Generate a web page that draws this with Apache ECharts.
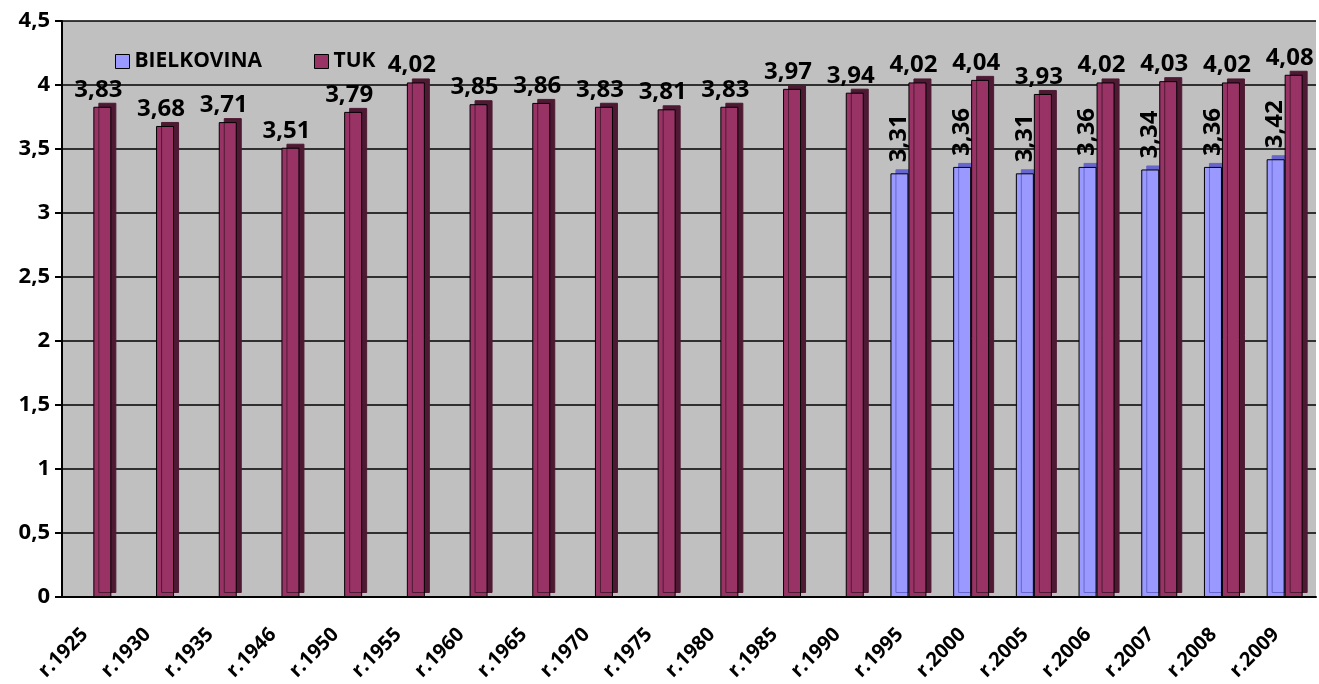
<!DOCTYPE html>
<html>
<head>
<meta charset="utf-8">
<script src="https://cdn.jsdelivr.net/npm/echarts@6/dist/echarts.min.js"></script>
<style>
  html, body { margin: 0; padding: 0; background: #fff; }
  #chart { width: 1319px; height: 684px; }
</style>
</head>
<body>
<div id="chart"></div>
<script>
// roky
var roky = ['r.1925', 'r.1930', 'r.1935', 'r.1946', 'r.1950', 'r.1955', 'r.1960', 'r.1965', 'r.1970', 'r.1975',
            'r.1980', 'r.1985', 'r.1990', 'r.1995', 'r.2000', 'r.2005', 'r.2006', 'r.2007', 'r.2008', 'r.2009'];
// bielkovina - merane az od r.1995
var bielkovina = [null, null, null, null, null, null, null, null, null, null,
                  null, null, null, 3.31, 3.36, 3.31, 3.36, 3.34, 3.36, 3.42];
// tuk
var tuk = [3.83, 3.68, 3.71, 3.51, 3.79, 4.02, 3.85, 3.86, 3.83, 3.81,
           3.83, 3.97, 3.94, 4.02, 4.04, 3.93, 4.02, 4.03, 4.02, 4.08];
var osY = [0, 0.5, 1, 1.5, 2, 2.5, 3, 3.5, 4, 4.5];

var font = '"Open Sans"';
function ciarka(v) { return String(v).replace('.', ','); }

var myChart = echarts.init(document.getElementById('chart'));

var option = {
    animation: false,
    textStyle: { fontFamily: font },
    legend: {
        left: 110,
        top: 46,
        itemGap: 52,
        itemWidth: 14,
        itemHeight: 14,
        icon: 'rect',
        itemStyle: { borderColor: '#000', borderWidth: 1, shadowBlur: 0, shadowOffsetX: 0, shadowOffsetY: 0 },
        textStyle: { fontFamily: font, fontWeight: 'bold', fontSize: 21, color: '#000' },
        data: ['BIELKOVINA', 'TUK']
    },
    grid: {
        left: 62,
        right: 3,
        top: 21,
        bottom: 87,
        show: true,
        backgroundColor: '#c0c0c0',
        borderWidth: 0
    },
    xAxis: {
        type: 'category',
        data: roky,
        axisLine: { lineStyle: { color: '#000', width: 2 } },
        axisTick: { length: 8, lineStyle: { color: '#000', width: 2 } },
        axisLabel: {
            rotate: 45,
            margin: 26,
            padding: [0, 12, 0, 0],
            fontFamily: font,
            fontWeight: 'bold',
            fontSize: 20,
            color: '#000'
        }
    },
    yAxis: {
        type: 'value',
        min: osY[0],
        max: osY[osY.length - 1],
        interval: 0.5,
        axisLine: { show: true, lineStyle: { color: '#000', width: 2 } },
        axisTick: { show: true, length: 7, lineStyle: { color: '#000', width: 2 } },
        splitLine: { lineStyle: { color: '#000', width: 1.5 } },
        axisLabel: {
            margin: 12,
            fontFamily: font,
            fontWeight: 'bold',
            fontSize: 22,
            color: '#000',
            formatter: function (v) { return ciarka(v); }
        }
    },
    series: [
        {
            name: 'BIELKOVINA',
            type: 'bar',
            data: bielkovina,
            barWidth: 18,
            barGap: '0%',
            itemStyle: {
                color: '#9999ff',
                borderColor: '#000',
                borderWidth: 1,
                shadowColor: '#6666cc',
                shadowOffsetX: 5,
                shadowOffsetY: -4,
                shadowBlur: 0
            },
            label: {
                show: true,
                position: 'top',
                rotate: 90,
                align: 'left',
                verticalAlign: 'middle',
                distance: 11,
                fontFamily: font,
                fontWeight: 'bold',
                fontSize: 24,
                color: '#000',
                formatter: function (p) { return ciarka(p.value); }
            }
        },
        {
            name: 'TUK',
            type: 'bar',
            data: tuk,
            barWidth: 18,
            itemStyle: {
                color: '#993366',
                borderColor: '#000',
                borderWidth: 1,
                shadowColor: '#4e1a33',
                shadowOffsetX: 5,
                shadowOffsetY: -4,
                shadowBlur: 0
            },
            label: {
                show: true,
                position: 'top',
                distance: 5,
                offset: [-4, 0],
                fontFamily: font,
                fontWeight: 'bold',
                fontSize: 24,
                color: '#000',
                formatter: function (p) { return ciarka(p.value); }
            }
        }
    ]
};

myChart.setOption(option);
</script>
</body>
</html>
